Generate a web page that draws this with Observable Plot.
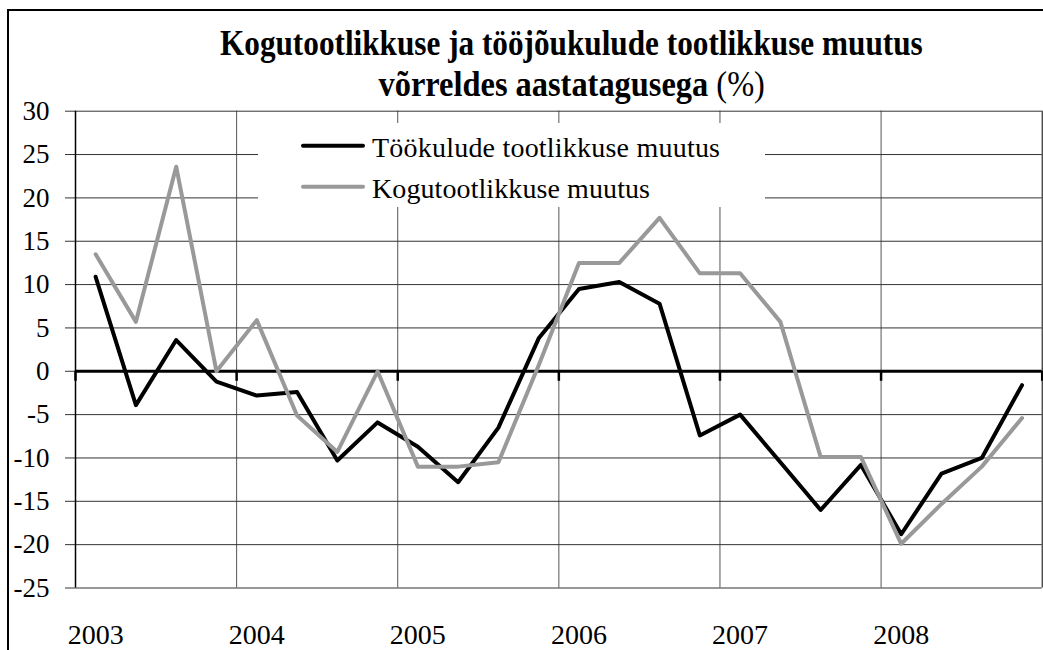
<!DOCTYPE html>
<html><head><meta charset="utf-8">
<script src="https://cdn.jsdelivr.net/npm/d3@7"></script>
<script src="https://cdn.jsdelivr.net/npm/@observablehq/plot@0.6"></script>
<style>
body{margin:0;background:#fff;font-family:"Liberation Serif","Times New Roman",serif;}
#wrap{position:relative;width:1043px;height:650px;overflow:hidden;}
#frame{position:absolute;left:7px;top:9px;width:1040px;height:650px;border-left:2px solid #000;border-top:2px solid #000;pointer-events:none;}
#title{position:relative;height:100px;}
.tl{position:absolute;white-space:nowrap;font-weight:bold;color:#000;line-height:1;transform-origin:center;}
#chart svg{display:block;}
#chart svg text{font-family:"Liberation Serif","Times New Roman",serif !important;}
</style></head><body>
<div id="wrap">
<div id="title">
<div class="tl" id="t1" style="font-size:33px;top:27px;">Kogutootlikkuse ja tööjõukulude tootlikkuse muutus</div>
<div class="tl" id="t2" style="font-size:34px;top:67px;">võrreldes aastatagusega <span style="font-weight:normal">(%)</span></div>
</div>
<div id="chart"></div>
<div id="frame"></div>
</div>
<script>
const quarters = ["2003Q1","2003Q2","2003Q3","2003Q4","2004Q1","2004Q2","2004Q3","2004Q4",
  "2005Q1","2005Q2","2005Q3","2005Q4","2006Q1","2006Q2","2006Q3","2006Q4",
  "2007Q1","2007Q2","2007Q3","2007Q4","2008Q1","2008Q2","2008Q3","2008Q4"];
const years = ["2003","2004","2005","2006","2007","2008"];
const seriesNames = ["Töökulude tootlikkuse muutus","Kogutootlikkuse muutus"];
const tookulud = [10.9,-3.9,3.6,-1.2,-2.8,-2.4,-10.3,-5.9,-8.7,-12.8,-6.5,3.8,
  9.5,10.3,7.8,-7.4,-5.0,-10.5,-16.0,-10.8,-18.8,-11.8,-10.0,-1.6];
const kogu = [13.5,5.7,23.6,0.0,5.9,-5.1,-9.3,0.0,-11.0,-11.0,-10.5,0.7,
  12.5,12.5,17.7,11.3,11.3,5.7,-9.9,-9.9,-19.9,-15.3,-11.0,-5.4];
const yTicks = [30,25,20,15,10,5,0,-5,-10,-15,-20,-25];

const SERIF='"Liberation Serif","Times New Roman",serif';

// title fitting
function fit(id, target){
  const el=document.getElementById(id);
  const w=el.offsetWidth;
  el.style.left=(571.5 - w/2)+"px";
  el.style.transform="scale("+(target/w)+",1.08)";
}
fit("t1",703); fit("t2",386);

const W=1043, H=550, mt=10.7, mb=62.5, ml=75, mr=1.3;
const pxPerUnit=(H-mt-mb)/(30-(-25));
const dataT = quarters.map((q,i)=>({q, x:i+0.5, v:tookulud[i]}));
const dataK = quarters.map((q,i)=>({q, x:i+0.5, v:kogu[i]}));
const boundaries = d3.range(0, quarters.length+1, 4);
const labelPos = years.map((y,i)=>i*4+0.5);

const plot = Plot.plot({
  width:W, height:H, marginLeft:ml, marginRight:mr, marginTop:mt, marginBottom:mb,
  style:{fontFamily:SERIF, color:"#000", background:"#fff", overflow:"visible"},
  x:{domain:[0,quarters.length], label:null},
  y:{domain:[-25,30], label:null},
  marks:[
    Plot.ruleX(boundaries.slice(1,-1), {stroke:"#555", strokeWidth:1}),
    Plot.ruleY(yTicks, {stroke:"#333", strokeWidth:1}),
    Plot.axisY(yTicks, {tickSize:10, tickPadding:16, fontSize:27, stroke:"#333", tickFormat:d=>String(d), label:null}),
    Plot.axisX(labelPos, {tickSize:0, tickPadding:36, fontSize:28, tickFormat:d=>years[Math.floor(d/4)], label:null}),
    Plot.ruleX([0], {stroke:"#000", strokeWidth:1.5}),
    Plot.ruleX([quarters.length], {stroke:"#000", strokeWidth:1}),
    Plot.ruleY([0], {stroke:"#000", strokeWidth:3}),
    Plot.ruleX(boundaries, {y1:0, y2:-10/pxPerUnit, stroke:"#000", strokeWidth:2.5}),
    Plot.line(dataT, {x:"x", y:"v", stroke:"#000", strokeWidth:4, strokeLinejoin:"round"}),
    Plot.line(dataK, {x:"x", y:"v", stroke:"#999", strokeWidth:4, strokeLinejoin:"round"})
  ]
});
document.getElementById("chart").appendChild(plot);

// legend
const svg=d3.select(plot);
svg.selectAll("text").attr("font-family",SERIF);
const lg=svg.append("g");
lg.append("rect").attr("x",258).attr("y",23).attr("width",507).attr("height",84).attr("fill","#fff");
const items=[{name:seriesNames[0],color:"#000",y:45.7,ty:56.7,len:348},{name:seriesNames[1],color:"#999",y:86.7,ty:98,len:278}];
items.forEach(it=>{
  lg.append("line").attr("x1",303).attr("x2",363).attr("y1",it.y).attr("y2",it.y)
    .attr("stroke",it.color).attr("stroke-width",4).attr("stroke-linecap","round");
  lg.append("text").attr("x",372).attr("y",it.ty).attr("font-size",28).attr("font-family",SERIF)
    .attr("text-anchor","start")
    .attr("textLength",it.len).attr("lengthAdjust","spacing").attr("fill","#000").text(it.name);
});
</script>
</body></html>
